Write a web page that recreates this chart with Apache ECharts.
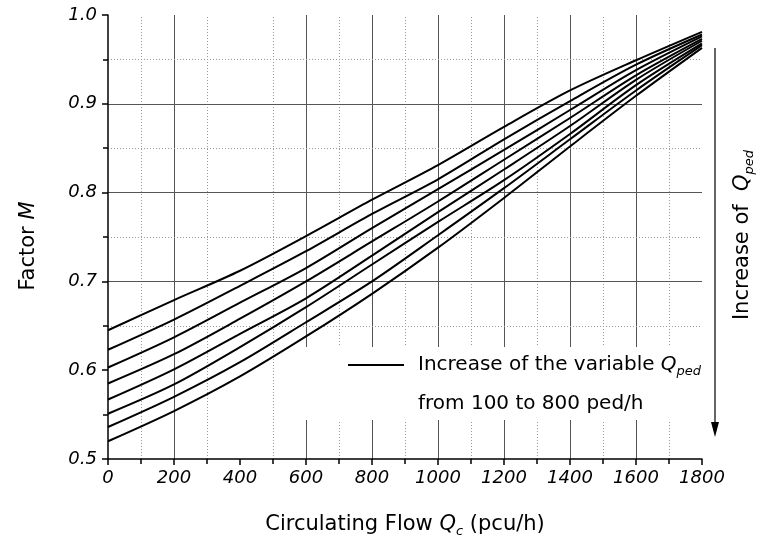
<!DOCTYPE html>
<html lang="en">
<head>
<meta charset="UTF-8">
<title>Factor M</title>
<script src="https://cdn.jsdelivr.net/npm/echarts@6/dist/echarts.min.js"></script>
<style>
  html, body { margin: 0; padding: 0; background: #fff; }
  #main { width: 763px; height: 550px; }
</style>
</head>
<body>
<div id="main"></div>
<script>
// circulating flow Qc (pcu/h)
const flows = [0, 200, 400, 600, 800, 1000, 1200, 1400, 1600, 1800];
// factor M for Qped = 100 ... 800 ped/h
const m100 = [0.645, 0.679, 0.712, 0.751, 0.792, 0.831, 0.874, 0.915, 0.949, 0.981];
const m200 = [0.623, 0.657, 0.695, 0.734, 0.776, 0.815, 0.860, 0.903, 0.944, 0.978];
const m300 = [0.603, 0.637, 0.676, 0.715, 0.760, 0.804, 0.848, 0.893, 0.938, 0.976];
const m400 = [0.585, 0.618, 0.658, 0.700, 0.745, 0.790, 0.837, 0.884, 0.932, 0.973];
const m500 = [0.567, 0.601, 0.641, 0.681, 0.729, 0.778, 0.826, 0.875, 0.927, 0.971];
const m600 = [0.551, 0.584, 0.626, 0.671, 0.719, 0.767, 0.814, 0.866, 0.921, 0.968];
const m700 = [0.536, 0.570, 0.609, 0.654, 0.700, 0.752, 0.805, 0.860, 0.915, 0.966];
const m800 = [0.520, 0.554, 0.593, 0.638, 0.686, 0.738, 0.794, 0.852, 0.909, 0.963];
const curves = [m100, m200, m300, m400, m500, m600, m700, m800];

// grid lines as they appear in the figure
const gridMajorX = [200, 600, 800, 1000, 1200, 1400, 1600];
const gridMinorX = [100, 300, 500, 700, 900, 1100, 1300, 1500, 1700];
const gridMajorY = [0.7, 0.8, 0.9];
const gridMinorY = [0.65, 0.75, 0.85, 0.95];

const FONT = '"DejaVu Sans", sans-serif';

var chart = echarts.init(document.getElementById('main'));

const major = { color: '#555', width: 1, type: 'solid' };
const minor = { color: '#999', width: 1, type: [1, 2] };
const gridLines = []
    .concat(gridMajorX.map(v => ({ xAxis: v, lineStyle: major })))
    .concat(gridMinorX.map(v => ({ xAxis: v, lineStyle: minor })))
    .concat(gridMajorY.map(v => ({ yAxis: v, lineStyle: major })))
    .concat(gridMinorY.map(v => ({ yAxis: v, lineStyle: minor })));

const series = curves.map(c => ({
    type: 'line',
    data: flows.map((x, i) => [x, c[i]]),
    symbol: 'none',
    smooth: 0.3,
    z: 3,
    lineStyle: { color: '#000', width: 2 }
}));
series.push({
    type: 'line',
    data: [],
    markLine: {
        silent: true,
        z: 0,
        symbol: ['none', 'none'],
        label: { show: false },
        animation: false,
        data: gridLines
    }
});

function richSet(size) {
    return {
        t: { fontFamily: FONT, fontSize: size, color: '#000', lineHeight: size + 6 },
        q: { fontFamily: FONT, fontSize: size, fontStyle: 'italic', color: '#000', lineHeight: size + 6 },
        s: { fontFamily: FONT, fontSize: 13, fontStyle: 'italic', color: '#000', lineHeight: 13, verticalAlign: 'bottom' }
    };
}
const nameRich = richSet(21);
const noteRich = richSet(20);

var option = {
    animation: false,
    backgroundColor: '#fff',
    grid: { left: 108, right: 61, top: 15, bottom: 91 },
    xAxis: {
        type: 'value',
        min: 0, max: 1800, interval: 200,
        name: '{t|Circulating Flow }{q|Q}{s|c}{t| (pcu/h)}',
        nameLocation: 'middle',
        nameGap: 52,
        nameTextStyle: { rich: nameRich },
        axisLine: { lineStyle: { color: '#000', width: 1.5 } },
        axisTick: { length: 6, lineStyle: { color: '#000', width: 1.5 } },
        minorTick: { show: true, splitNumber: 2, length: 5, lineStyle: { color: '#000', width: 1.5 } },
        axisLabel: {
            fontFamily: FONT, fontStyle: 'italic', fontSize: 18, color: '#000', margin: 10,
            formatter: v => String(v)
        },
        splitLine: { show: false }
    },
    yAxis: {
        type: 'value',
        min: 0.5, max: 1.0, interval: 0.1,
        name: '{t|Factor }{q|M}',
        nameLocation: 'middle',
        nameGap: 66,
        nameTextStyle: { rich: nameRich, padding: [0, 18, 0, 0] },
        axisLine: { show: true, lineStyle: { color: '#000', width: 1.5 } },
        axisTick: { show: true, length: 6, lineStyle: { color: '#000', width: 1.5 } },
        minorTick: { show: true, splitNumber: 2, length: 5, lineStyle: { color: '#000', width: 1.5 } },
        axisLabel: {
            fontFamily: FONT, fontStyle: 'italic', fontSize: 18, color: '#000', margin: 11,
            formatter: v => v.toFixed(1)
        },
        splitLine: { show: false }
    },
    graphic: [
        // white panel behind the note
        { type: 'rect', z: 1, shape: { x: 282, y: 347, width: 420, height: 73 }, style: { fill: '#fff' } },
        { type: 'line', z: 4, shape: { x1: 348, y1: 365, x2: 404, y2: 365 }, style: { stroke: '#000', lineWidth: 2 } },
        {
            type: 'text', z: 4, x: 418, y: 365,
            style: { text: '{t|Increase of the variable }{q|Q}{s|ped}', rich: noteRich, verticalAlign: 'middle', align: 'left' }
        },
        {
            type: 'text', z: 4, x: 418, y: 404,
            style: { text: '{t|from 100 to 800 ped/h}', rich: noteRich, verticalAlign: 'middle', align: 'left' }
        },
        // arrow on the right
        { type: 'line', z: 4, shape: { x1: 715, y1: 48, x2: 715, y2: 428 }, style: { stroke: '#333', lineWidth: 1.5 } },
        { type: 'polygon', z: 4, shape: { points: [[711, 422], [719, 422], [715, 437]] }, style: { fill: '#000' } },
        {
            type: 'text', z: 4, x: 743, y: 235, rotation: Math.PI / 2,
            style: { text: '{t|Increase of  }{q|Q}{s|ped}', rich: nameRich, align: 'center', verticalAlign: 'middle' }
        }
    ],
    series: series
};
option && chart.setOption(option);
</script>
</body>
</html>
